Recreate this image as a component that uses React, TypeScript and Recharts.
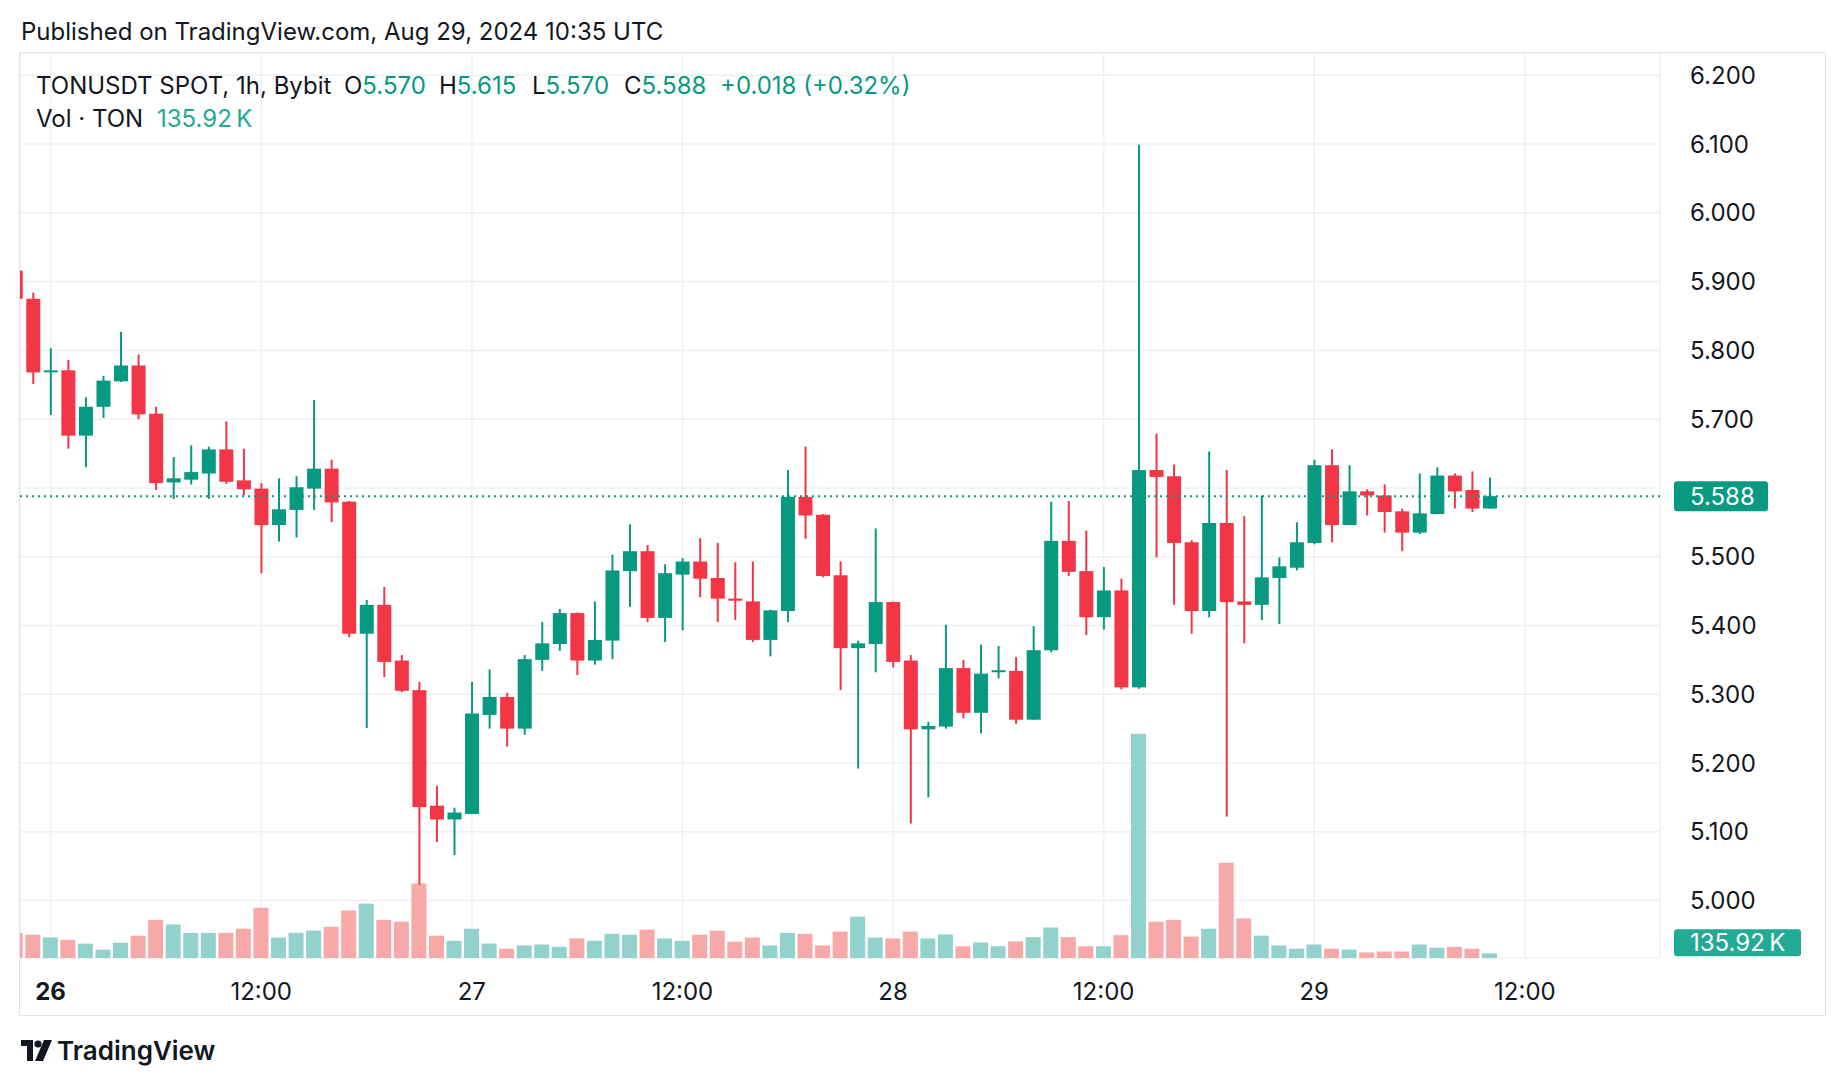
import { ComposedChart, Bar, XAxis, YAxis, CartesianGrid, ReferenceLine, Cell } from 'recharts';

const FONT = 'Inter, "Noto Sans", sans-serif';
const UP = '#089981';
const DOWN = '#F23645';
const UP_VOL = '#92D2CC';
const DOWN_VOL = '#F7A9A7';
const TEXT = '#131722';
const GRID = '#EEF0F4';

// hourly candles, 25 Aug 22:00 UTC .. 29 Aug 10:00 UTC
const opens = [
  5.916, 5.875, 5.770, 5.771, 5.676, 5.718, 5.755, 5.778, 5.708, 5.608,
  5.612, 5.621, 5.656, 5.611, 5.599, 5.546, 5.568, 5.599, 5.628, 5.580,
  5.388, 5.430, 5.349, 5.306, 5.138, 5.118, 5.126, 5.270, 5.296, 5.250,
  5.350, 5.373, 5.418, 5.349, 5.378, 5.479, 5.508, 5.411, 5.474, 5.493,
  5.469, 5.439, 5.435, 5.379, 5.421, 5.587, 5.561, 5.473, 5.367, 5.373,
  5.434, 5.349, 5.249, 5.253, 5.338, 5.273, 5.332, 5.334, 5.263, 5.364,
  5.523, 5.479, 5.412, 5.451, 5.310, 5.626, 5.617, 5.521, 5.421, 5.549,
  5.435, 5.430, 5.469, 5.484, 5.520, 5.633, 5.546, 5.595, 5.589, 5.566,
  5.535, 5.562, 5.618, 5.597, 5.570,
];
const highs = [
  5.920, 5.884, 5.803, 5.786, 5.732, 5.763, 5.827, 5.794, 5.718, 5.645,
  5.662, 5.660, 5.697, 5.657, 5.607, 5.614, 5.617, 5.728, 5.641, 5.581,
  5.437, 5.456, 5.357, 5.318, 5.167, 5.135, 5.318, 5.336, 5.302, 5.357,
  5.405, 5.424, 5.419, 5.435, 5.503, 5.547, 5.517, 5.489, 5.498, 5.527,
  5.520, 5.492, 5.493, 5.423, 5.626, 5.660, 5.562, 5.493, 5.378, 5.541,
  5.435, 5.357, 5.260, 5.401, 5.350, 5.372, 5.370, 5.354, 5.399, 5.580,
  5.581, 5.538, 5.485, 5.468, 6.099, 5.679, 5.634, 5.524, 5.653, 5.626,
  5.559, 5.589, 5.499, 5.550, 5.641, 5.656, 5.633, 5.598, 5.605, 5.570,
  5.621, 5.630, 5.621, 5.624, 5.615,
];
const lows = [
  5.870, 5.751, 5.706, 5.657, 5.630, 5.702, 5.754, 5.700, 5.597, 5.584,
  5.605, 5.584, 5.606, 5.589, 5.476, 5.522, 5.528, 5.568, 5.550, 5.383,
  5.251, 5.325, 5.303, 5.023, 5.085, 5.066, 5.126, 5.250, 5.224, 5.241,
  5.334, 5.363, 5.328, 5.343, 5.351, 5.427, 5.405, 5.376, 5.393, 5.441,
  5.405, 5.408, 5.376, 5.355, 5.405, 5.526, 5.470, 5.306, 5.192, 5.332,
  5.339, 5.112, 5.150, 5.250, 5.265, 5.243, 5.323, 5.257, 5.263, 5.361,
  5.472, 5.386, 5.394, 5.307, 5.308, 5.499, 5.430, 5.388, 5.412, 5.122,
  5.374, 5.408, 5.402, 5.480, 5.518, 5.521, 5.546, 5.560, 5.535, 5.508,
  5.533, 5.562, 5.570, 5.565, 5.570,
];
const closes = [
  5.875, 5.768, 5.771, 5.676, 5.718, 5.756, 5.778, 5.707, 5.607, 5.614,
  5.623, 5.656, 5.609, 5.598, 5.546, 5.569, 5.601, 5.628, 5.579, 5.388,
  5.430, 5.347, 5.305, 5.136, 5.118, 5.128, 5.272, 5.296, 5.250, 5.351,
  5.374, 5.418, 5.349, 5.379, 5.480, 5.508, 5.411, 5.476, 5.493, 5.468,
  5.439, 5.436, 5.379, 5.422, 5.587, 5.560, 5.472, 5.367, 5.374, 5.434,
  5.347, 5.249, 5.254, 5.338, 5.273, 5.330, 5.335, 5.263, 5.364, 5.523,
  5.478, 5.412, 5.451, 5.310, 5.626, 5.616, 5.520, 5.421, 5.549, 5.434,
  5.430, 5.470, 5.486, 5.521, 5.633, 5.546, 5.595, 5.589, 5.565, 5.535,
  5.563, 5.618, 5.595, 5.570, 5.588,
];
// volume in thousands of TON
const volumesK = [
  730, 680, 600, 530, 420, 245, 447, 651, 1113, 978,
  733, 733, 733, 855, 1467, 598, 733, 801, 910, 1385,
  1589, 1113, 1059, 2173, 652, 502, 855, 421, 272, 367,
  394, 326, 570, 502, 706, 679, 828, 570, 502, 679,
  801, 475, 598, 367, 733, 706, 367, 774, 1209, 598,
  570, 774, 570, 689, 344, 454, 344, 485, 610, 891,
  610, 344, 344, 668, 6546, 1059, 1113, 625, 855, 2784,
  1154, 652, 367, 272, 394, 272, 245, 163, 190, 190,
  394, 299, 326, 272, 135.92,
];

const timeTicks = [2, 14, 26, 38, 50, 62, 74, 86];
const timeLabels = ['26', '12:00', '27', '12:00', '28', '12:00', '29', '12:00'];
const priceTicks = [5, 5.1, 5.2, 5.3, 5.4, 5.5, 5.6, 5.7, 5.8, 5.9, 6, 6.1, 6.2];

const rows = opens.map((o, i) => ({
  i,
  open: o,
  high: highs[i],
  low: lows[i],
  close: closes[i],
  range: [lows[i], highs[i]],
  vol: volumesK[i],
}));

const last = rows.length - 1;
const X_DOMAIN = [0.256, 93.7];

const Candle = (props: any) => {
  const { x, y, width, height, payload } = props;
  if (!payload || !isFinite(y) || !isFinite(height)) return null;
  const { open, close, high, low } = payload;
  const color = close >= open ? UP : DOWN;
  const top = Math.min(y, y + height);
  const h = Math.abs(height);
  const toY = (p: number) => top + ((high - p) / (high - low)) * h;
  const cx = x + width / 2;
  const yo = toY(open);
  const yc = toY(close);
  const bodyTop = Math.min(yo, yc);
  const bodyH = Math.max(Math.abs(yo - yc), 2);
  return (
    <g>
      <rect x={cx - 1} y={top} width={2} height={h} fill={color} />
      <rect x={cx - 7} y={bodyTop} width={14} height={bodyH} fill={color} />
    </g>
  );
};

const TimeTick = (props: any) => {
  const { x, y, payload } = props;
  const k = timeTicks.indexOf(payload.value);
  return (
    <text
      x={x}
      y={y + 33}
      textAnchor="middle"
      dominantBaseline="central"
      fontSize={24}
      fontFamily={FONT}
      fontWeight={k === 0 ? 700 : 400}
      fill={TEXT}
    >
      {timeLabels[k]}
    </text>
  );
};

// the last-price tag covers the nearest scale label, as on TradingView
const priceLabel = (v: number) => (Math.abs(v - closes[last]) < 0.03 ? '' : v.toFixed(3));

const PriceTag = (props: any) => {
  const vb = props.viewBox;
  if (!vb) return null;
  const x = vb.x + vb.width + 14;
  return (
    <g>
      <rect x={x} y={vb.y - 15} width={94} height={30} rx={3} fill={UP} />
      <text x={x + 16} y={vb.y} dominantBaseline="central" fontSize={24} fontFamily={FONT} fill="#fff">
        {closes[last].toFixed(3)}
      </text>
    </g>
  );
};

const VolTag = (props: any) => {
  const vb = props.viewBox;
  if (!vb) return null;
  const x = vb.x + vb.width + 14;
  return (
    <g>
      <rect x={x} y={vb.y - 24} width={127} height={27} rx={3} fill="#22AB94" />
      <text x={x + 16} y={vb.y - 10.5} dominantBaseline="central" fontSize={24} fontFamily={FONT} fill="#fff">
        {volumesK[last].toFixed(2)}{'\u2009'}K
      </text>
    </g>
  );
};

const Legend = () => {
  const o = rows[last];
  const item = (label: string, value: string, left: number) => (
    <div style={{ position: 'absolute', left, top: 71, lineHeight: '30px' }}>
      {label}
      <span style={{ color: UP }}>{value}</span>
    </div>
  );
  return (
    <>
      <div style={{ position: 'absolute', left: 36, top: 71, lineHeight: '30px' }}>TONUSDT SPOT, 1h, Bybit</div>
      {item('O', o.open.toFixed(3), 344)}
      {item('H', o.high.toFixed(3), 439)}
      {item('L', o.low.toFixed(3), 532)}
      {item('C', o.close.toFixed(3), 624)}
      <div style={{ position: 'absolute', left: 720, top: 71, lineHeight: '30px', color: UP }}>+0.018 (+0.32%)</div>
      <div style={{ position: 'absolute', left: 36, top: 104, lineHeight: '30px' }}>Vol · TON</div>
      <div style={{ position: 'absolute', left: 157, top: 104, lineHeight: '30px', color: '#22AB94' }}>
        {volumesK[last].toFixed(2)}{'\u2009'}K
      </div>
    </>
  );
};

export default function App() {
  return (
    <div
      style={{
        position: 'absolute',
        left: 0,
        top: 0,
        width: 1846,
        height: 1086,
        background: '#fff',
        fontFamily: FONT,
        fontSize: 24,
        color: TEXT,
        overflow: 'hidden',
      }}
    >
      <div style={{ position: 'absolute', left: 21, top: 17, lineHeight: '30px' }}>
        Published on TradingView.com, Aug 29, 2024 10:35 UTC
      </div>
      <div
        style={{
          position: 'absolute',
          left: 19,
          top: 52,
          width: 1807,
          height: 964,
          border: '1px solid #E0E3EB',
          boxSizing: 'border-box',
        }}
      />
      <div style={{ position: 'absolute', left: 20, top: 53 }}>
        <ComposedChart width={1805} height={962} data={rows} margin={{ top: 0, right: 0, bottom: 0, left: 0 }}>
          <XAxis
            xAxisId="x"
            dataKey="i"
            type="number"
            domain={X_DOMAIN}
            ticks={timeTicks}
            interval={0}
            tick={(p: any) => <TimeTick {...p} />}
            height={57}
            axisLine={false}
            tickLine={false}
            tickSize={0}
            tickMargin={0}
            allowDataOverflow
          />
          <XAxis xAxisId="xv" dataKey="i" type="number" domain={X_DOMAIN} hide allowDataOverflow />
          <YAxis
            yAxisId="p"
            orientation="right"
            type="number"
            width={165}
            domain={[4.9165, 6.2324]}
            ticks={priceTicks}
            interval={0}
            tickFormatter={priceLabel}
            axisLine={false}
            tickLine={false}
            tickSize={0}
            tickMargin={30}
            tick={{ fontSize: 24, fill: TEXT, fontFamily: FONT }}
            allowDataOverflow
          />
          <YAxis yAxisId="v" type="number" hide domain={[0, 26426]} allowDataOverflow />
          <CartesianGrid xAxisId="x" yAxisId="p" stroke={GRID} strokeWidth={1.5} />
          <Bar dataKey="vol" xAxisId="xv" yAxisId="v" barSize={15} isAnimationActive={false}>
            {rows.map((r) => (
              <Cell key={r.i} fill={r.close >= r.open ? UP_VOL : DOWN_VOL} />
            ))}
          </Bar>
          <Bar
            dataKey="range"
            xAxisId="x"
            yAxisId="p"
            barSize={14}
            isAnimationActive={false}
            shape={(p: any) => <Candle {...p} />}
          />
          <ReferenceLine
            xAxisId="x"
            yAxisId="p"
            y={closes[last]}
            stroke={UP}
            strokeWidth={2}
            strokeDasharray="2 4"
            label={(p: any) => <PriceTag {...p} />}
          />
          <ReferenceLine
            xAxisId="xv"
            yAxisId="v"
            y={volumesK[last]}
            stroke="none"
            label={(p: any) => <VolTag {...p} />}
          />
        </ComposedChart>
      </div>
      <Legend />
      <svg style={{ position: 'absolute', left: 21, top: 1040 }} width={32} height={22} viewBox="0 0 32 22">
        <path d="M0 0 H12 V21 H6 V6 H0 Z" fill={TEXT} />
        <circle cx={17} cy={4} r={3.6} fill={TEXT} />
        <path d="M23 0 H31 L22 21 H14 Z" fill={TEXT} />
      </svg>
      <div style={{ position: 'absolute', left: 57, top: 1035, lineHeight: '32px', fontSize: 26, fontWeight: 600 }}>
        TradingView
      </div>
    </div>
  );
}
